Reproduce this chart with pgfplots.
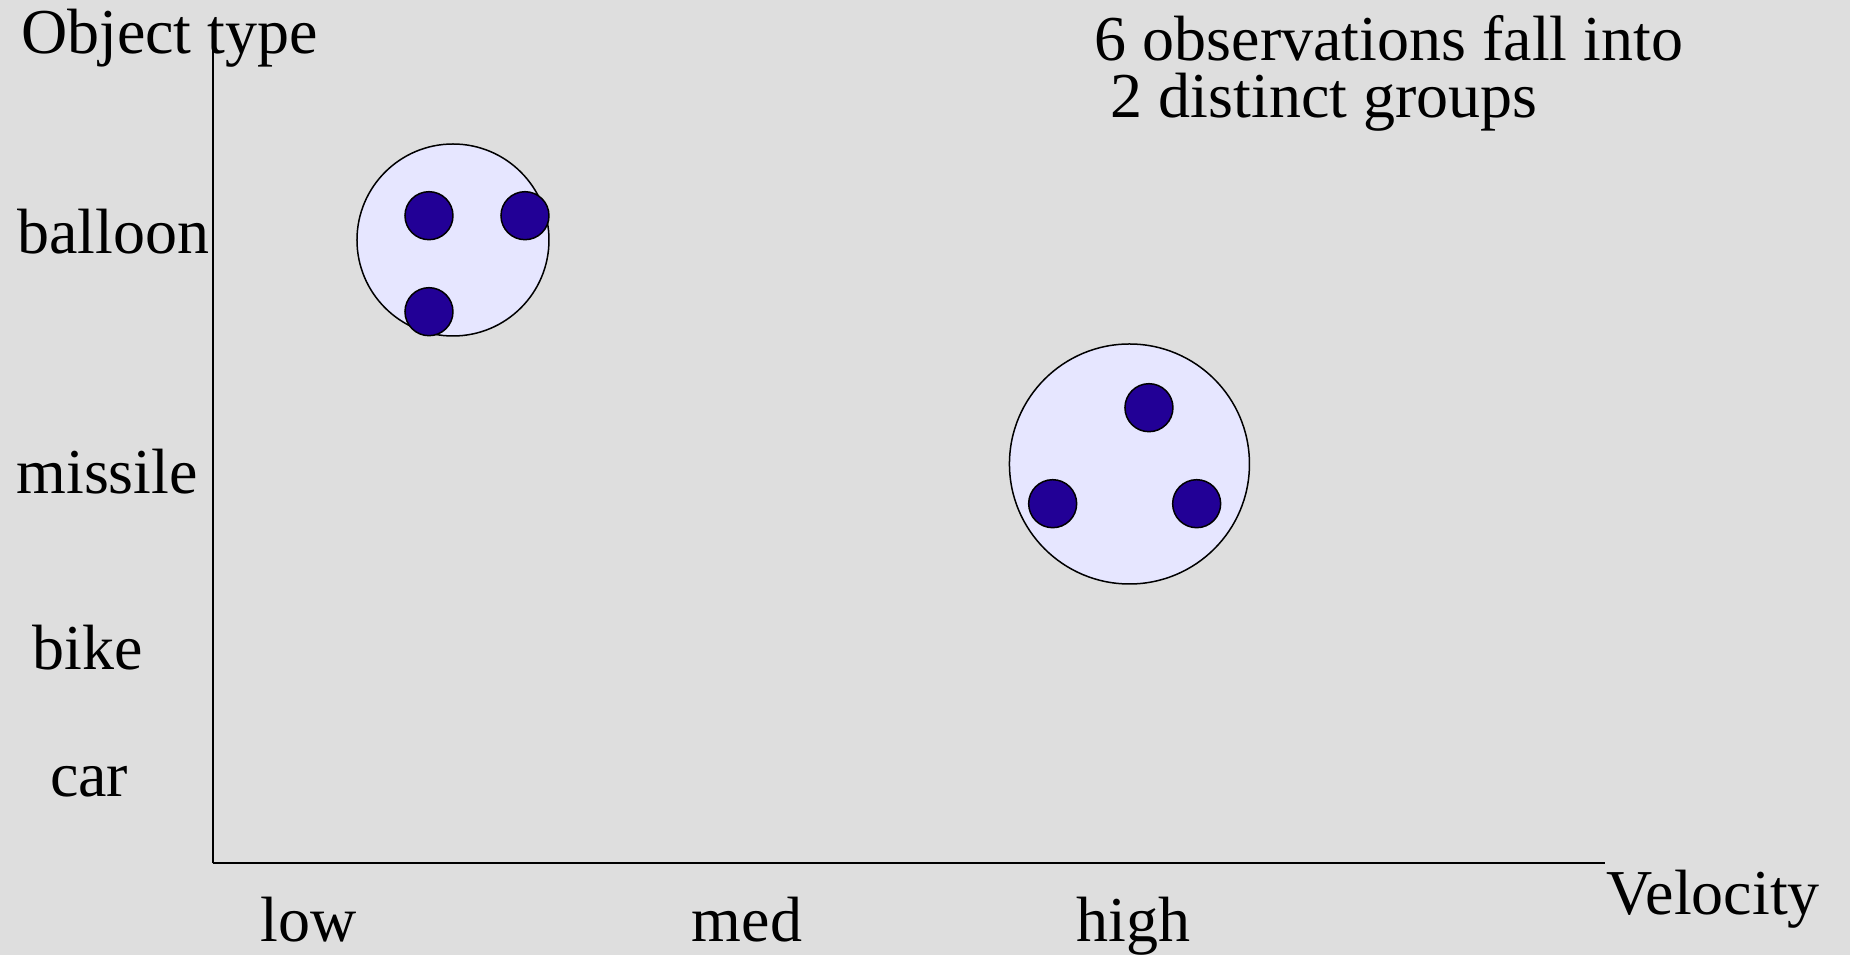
\documentclass[border=0pt]{standalone}
\usepackage{pgfplots}
\pgfplotsset{compat=1.18}
\usepackage{fontspec}
\setmainfont{Liberation Serif}
\definecolor{bg}{RGB}{222,222,222}
\definecolor{cluster}{RGB}{230,230,255}
\definecolor{dot}{RGB}{34,0,150}
\tikzset{lbl/.style={font=\fontsize{25.6}{30}\selectfont, inner sep=0pt, outer sep=0pt, anchor=base west}}
\begin{document}
\begin{tikzpicture}
\useasboundingbox (0,0) rectangle (740pt,382pt);
\fill[bg] (0,0) rectangle (740pt,382pt);
\begin{axis}[
  at={(85.08pt,36.6pt)}, anchor=south west,
  scale only axis, width=556.9pt, height=326.2pt,
  xmin=212.7, xmax=1605, ymin=91.5, ymax=907,
  axis x line=bottom, axis y line=left,
  axis line style={-, line width=0.8pt, black},
  xtick=\empty, ytick=\empty,
  clip=false,
]
% clusters
\addplot[only marks, mark=*, mark size=38.4pt, mark options={fill=cluster, draw=black, line width=0.6pt}] coordinates {(453,715)};
\addplot[only marks, mark=*, mark size=48pt, mark options={fill=cluster, draw=black, line width=0.6pt}] coordinates {(1129.5,491)};
% observations
\addplot[only marks, mark=*, mark size=9.6pt, mark options={fill=dot, draw=black, line width=0.6pt}] coordinates {
(429,739.3) (525,739.3) (429,643.3)
(1149,547.3) (1052.7,451.3) (1196.7,451.3)
};
% labels
\node[lbl] at (axis cs:21,901.7) {Object type};
\node[lbl] at (axis cs:17.5,701.7) {balloon};
\node[lbl] at (axis cs:16.5,461.7) {missile};
\node[lbl] at (axis cs:32.5,285.7) {bike};
\node[lbl] at (axis cs:50,158.3) {car};
\node[lbl] at (axis cs:261,13.3) {low};
\node[lbl] at (axis cs:692,13.3) {med};
\node[lbl] at (axis cs:1076.5,13.3) {high};
\node[lbl] at (axis cs:1606.5,40) {Velocity};
\node[lbl] at (axis cs:1095,894) {6 observations fall into};
\node[lbl] at (axis cs:1095,837) {\ 2 distinct groups};
\end{axis}
\end{tikzpicture}
\end{document}
